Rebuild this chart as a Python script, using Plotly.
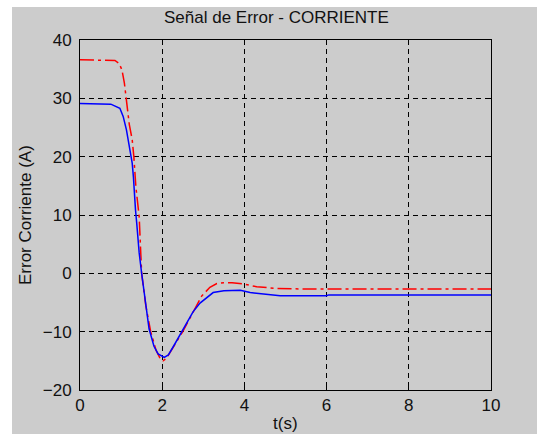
import plotly.graph_objects as go

# Error signal of the current loop (reference vs. controlled response)
t_red = [0.0, 0.5, 0.85, 0.95, 1.02, 1.08, 1.14, 1.20, 1.27, 1.31, 1.36, 1.40, 1.44,
         1.50, 1.60, 1.72, 1.85, 1.95, 2.02, 2.10, 2.20, 2.35, 2.50, 2.65, 2.80,
         2.96, 3.16, 3.33, 3.50, 3.70, 4.00, 4.30, 4.80, 5.50, 10.0]
e_red = [36.6, 36.6, 36.5, 36.0, 34.9, 32.6, 28.5, 25.5, 22.9, 20.0, 14.8, 12.6, 9.7,
         0.0, -5.5, -10.0, -13.2, -14.6, -15.0, -14.6, -13.5, -11.8, -10.0, -8.0, -5.9,
         -3.9, -2.4, -1.75, -1.6, -1.6, -1.85, -2.3, -2.6, -2.7, -2.7]

t_blue = [0.0, 0.5, 0.75, 0.97, 1.05, 1.13, 1.19, 1.24, 1.27, 1.30, 1.32, 1.35, 1.38,
          1.44, 1.50, 1.60, 1.68, 1.80, 1.90, 2.05, 2.15, 2.30, 2.47, 2.60, 2.75,
          2.92, 3.10, 3.24, 3.50, 3.90, 4.14, 4.45, 4.87, 6.00, 6.05, 10.0]
e_blue = [29.1, 29.1, 29.0, 28.3, 26.9, 24.6, 22.3, 20.0, 18.9, 16.5, 13.0, 10.9, 8.6,
          3.5, 0.0, -5.5, -9.5, -12.5, -13.8, -14.4, -14.0, -12.2, -10.0, -8.3, -6.6,
          -5.1, -4.0, -3.3, -3.0, -2.9, -3.3, -3.5, -3.85, -3.85, -3.7, -3.7]

x_ticks = [0, 2, 4, 6, 8, 10]
y_ticks = [-20, -10, 0, 10, 20, 30, 40]

FONT = "Liberation Sans, Arial, sans-serif"
TEXT = dict(family=FONT, size=17, color="#111111")

fig = go.Figure()
fig.add_trace(go.Scatter(x=t_red, y=e_red, mode="lines",
                         line=dict(color="#ff0000", width=1.5, dash="14px,4px,3px,4px")))
fig.add_trace(go.Scatter(x=t_blue, y=e_blue, mode="lines",
                         line=dict(color="#0000ff", width=1.5)))

axis_common = dict(
    showline=True, mirror="allticks", linecolor="black", linewidth=1,
    ticks="inside", ticklen=5, tickcolor="black",
    showgrid=True, gridcolor="black", gridwidth=1, griddash="5px,4px",
    zeroline=False, tickfont=TEXT,
)

fig.update_xaxes(range=[0, 10], tickvals=x_ticks, **axis_common)
fig.update_yaxes(range=[-20, 40], tickvals=y_ticks, ticklabelstandoff=4, **axis_common)

# gray figure panel with a thin white rim on the left and top
L, T, W, H = 80, 40, 411, 350
def px_x(p):
    return (p - L) / W
def px_y(p):
    return 1 - (p - T) / H

fig.add_shape(type="rect", xref="paper", yref="paper", layer="below",
              x0=px_x(12), x1=px_x(540), y0=px_y(434), y1=px_y(7),
              fillcolor="#cccccc", line=dict(width=0))

labels = [
    ("Señal de Error - CORRIENTE", 276, 18, 0),
    ("Error Corriente (A)", 25, 215, -90),
    ("t(s)", 285, 423, 0),
]
for text, px, py, ang in labels:
    fig.add_annotation(text=text, xref="paper", yref="paper",
                       x=px_x(px), y=px_y(py), xanchor="center", yanchor="middle",
                       showarrow=False, textangle=ang, font=TEXT)

fig.update_layout(
    width=537, height=436,
    margin=dict(l=L, r=537 - L - W, t=T, b=436 - T - H),
    paper_bgcolor="white", plot_bgcolor="white",
    showlegend=False,
)

fig.write_html("out.html")
